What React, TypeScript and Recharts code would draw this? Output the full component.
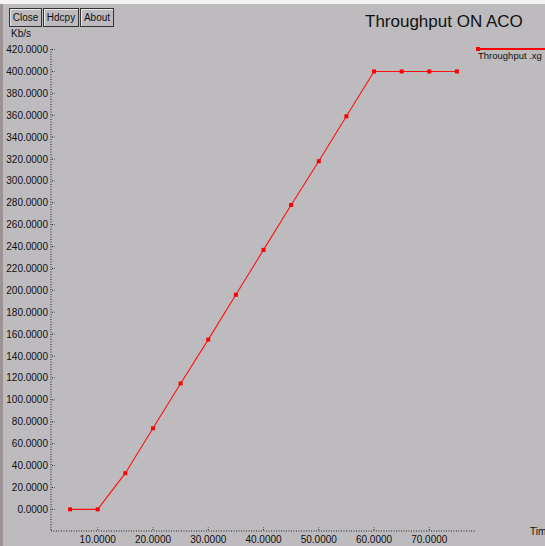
import { LineChart, Line, XAxis, YAxis } from "recharts";

// throughput samples
const timeValues = [5, 10, 15, 20, 25, 30, 35, 40, 45, 50, 55, 60, 65, 70, 75];
const throughputKbs = [0, 0, 33, 74, 115, 155, 196, 237, 278, 318, 359, 400, 400, 400, 400];

const xTicks = [10, 20, 30, 40, 50, 60, 70];
const yTicks = [0, 20, 40, 60, 80, 100, 120, 140, 160, 180, 200, 220, 240, 260, 280, 300, 320, 340, 360, 380, 400, 420];

const X_DOMAIN: [number, number] = [1.55, 78.45];
const Y_DOMAIN: [number, number] = [-19.8, 420.5];

const BG = "#bdbbbe";
const FONT = "'Liberation Sans', Arial, sans-serif";
const DOTTED = "1 1.5";

const data = timeValues.map((t, i) => ({ time: t, kbs: throughputKbs[i] }));

const fmt = (v: number) => v.toFixed(4);

// xgraph draws small tick marks on the inside of the frame
function LeftTick(p: any) {
  const ax = p.x + 3;
  return (
    <g>
      <text x={p.x} y={p.y} dy="0.35em" textAnchor="end" fontSize={10} fontFamily={FONT} fill="#111">
        {fmt(p.payload.value)}
      </text>
      <line x1={ax + 1} x2={ax + 4} y1={p.y} y2={p.y} stroke="#222" strokeDasharray={DOTTED} />
    </g>
  );
}

function BottomTick(p: any) {
  const ay = p.y - 5;
  return (
    <g>
      <text x={p.x} y={p.y} dy="0.71em" textAnchor="middle" fontSize={10} fontFamily={FONT} fill="#111">
        {fmt(p.payload.value)}
      </text>
      <line x1={p.x} x2={p.x} y1={ay - 1} y2={ay - 4} stroke="#222" strokeDasharray={DOTTED} />
    </g>
  );
}

function TopTick(p: any) {
  return <line x1={p.x} x2={p.x} y1={p.y + 1} y2={p.y + 4} stroke="#222" strokeDasharray={DOTTED} />;
}

function RightTick(p: any) {
  return <line x1={p.x - 1} x2={p.x - 4} y1={p.y} y2={p.y} stroke="#222" strokeDasharray={DOTTED} />;
}

// small square markers like xgraph's
function SquareDot(p: any) {
  if (p.cx == null || p.cy == null) return <g key={p.key} />;
  return <rect key={p.key} x={p.cx - 2} y={p.cy - 2} width={4} height={4} fill="#ff0000" />;
}

const btn: React.CSSProperties = {
  position: "absolute",
  top: 8,
  height: 17,
  border: "1px solid #333",
  boxShadow: "inset 1px 1px 0 #e8e8e8",
  fontFamily: FONT,
  fontSize: 10,
  lineHeight: "17px",
  textAlign: "center",
  color: "#111",
  background: BG,
};

export default function App() {
  return (
    <div
      style={{
        position: "absolute",
        left: 0,
        top: 0,
        width: 545,
        height: 546,
        background: BG,
        overflow: "hidden",
        fontFamily: FONT,
      }}
    >
      <div style={{ position: "absolute", left: 0, top: 0, width: 545, height: 4, background: "#f4f4f4" }} />
      <div style={{ position: "absolute", left: 0, top: 4, width: 3, height: 542, background: "#9c9494" }} />

      <div style={{ ...btn, left: 9, width: 31 }}>Close</div>
      <div style={{ ...btn, left: 43, width: 34 }}>Hdcpy</div>
      <div style={{ ...btn, left: 80, width: 32 }}>About</div>

      <div style={{ position: "absolute", left: 365, top: 12, fontSize: 17, color: "#111", whiteSpace: "nowrap" }}>
        Throughput ON ACO
      </div>
      <div style={{ position: "absolute", left: 11, top: 28, fontSize: 10, color: "#111" }}>Kb/s</div>
      <div style={{ position: "absolute", left: 530, top: 526, fontSize: 10, color: "#111", whiteSpace: "nowrap" }}>
        Time
      </div>

      {/* legend entry */}
      <div style={{ position: "absolute", left: 476, top: 48, width: 69, height: 1.5, background: "#ff0000" }} />
      <div style={{ position: "absolute", left: 476, top: 47, width: 4, height: 4, background: "#ff0000" }} />
      <div style={{ position: "absolute", left: 478, top: 50, fontSize: 9.5, color: "#111", whiteSpace: "nowrap" }}>
        Throughput .xg
      </div>

      <div style={{ position: "absolute", left: 0, top: 0 }}>
        <LineChart width={545} height={546} data={data} margin={{ top: 49, right: 69, bottom: 0, left: 6 }}>
          <XAxis
            dataKey="time"
            type="number"
            domain={X_DOMAIN}
            ticks={xTicks}
            allowDataOverflow
            height={15}
            tickSize={0}
            tickMargin={5}
            axisLine={{ stroke: "#222", strokeDasharray: DOTTED }}
            tickLine={false}
            tick={BottomTick}
            interval={0}
          />
          <XAxis
            xAxisId="top"
            orientation="top"
            dataKey="time"
            type="number"
            domain={X_DOMAIN}
            ticks={xTicks}
            allowDataOverflow
            height={0}
            tickSize={0}
            tickMargin={0}
            axisLine={{ stroke: "#222", strokeDasharray: DOTTED }}
            tickLine={false}
            tick={TopTick}
            interval={0}
          />
          <YAxis
            type="number"
            domain={Y_DOMAIN}
            ticks={yTicks}
            allowDataOverflow
            width={45}
            tickSize={0}
            tickMargin={3}
            axisLine={{ stroke: "#222", strokeDasharray: DOTTED }}
            tickLine={false}
            tick={LeftTick}
            interval={0}
          />
          <YAxis
            yAxisId="right"
            orientation="right"
            type="number"
            domain={Y_DOMAIN}
            ticks={yTicks}
            allowDataOverflow
            width={0}
            tickSize={0}
            tickMargin={0}
            axisLine={{ stroke: "#222", strokeDasharray: DOTTED }}
            tickLine={false}
            tick={RightTick}
            interval={0}
          />
          <Line
            dataKey="kbs"
            type="linear"
            stroke="#ff1010"
            strokeWidth={1.1}
            dot={SquareDot}
            isAnimationActive={false}
          />
        </LineChart>
      </div>
    </div>
  );
}
